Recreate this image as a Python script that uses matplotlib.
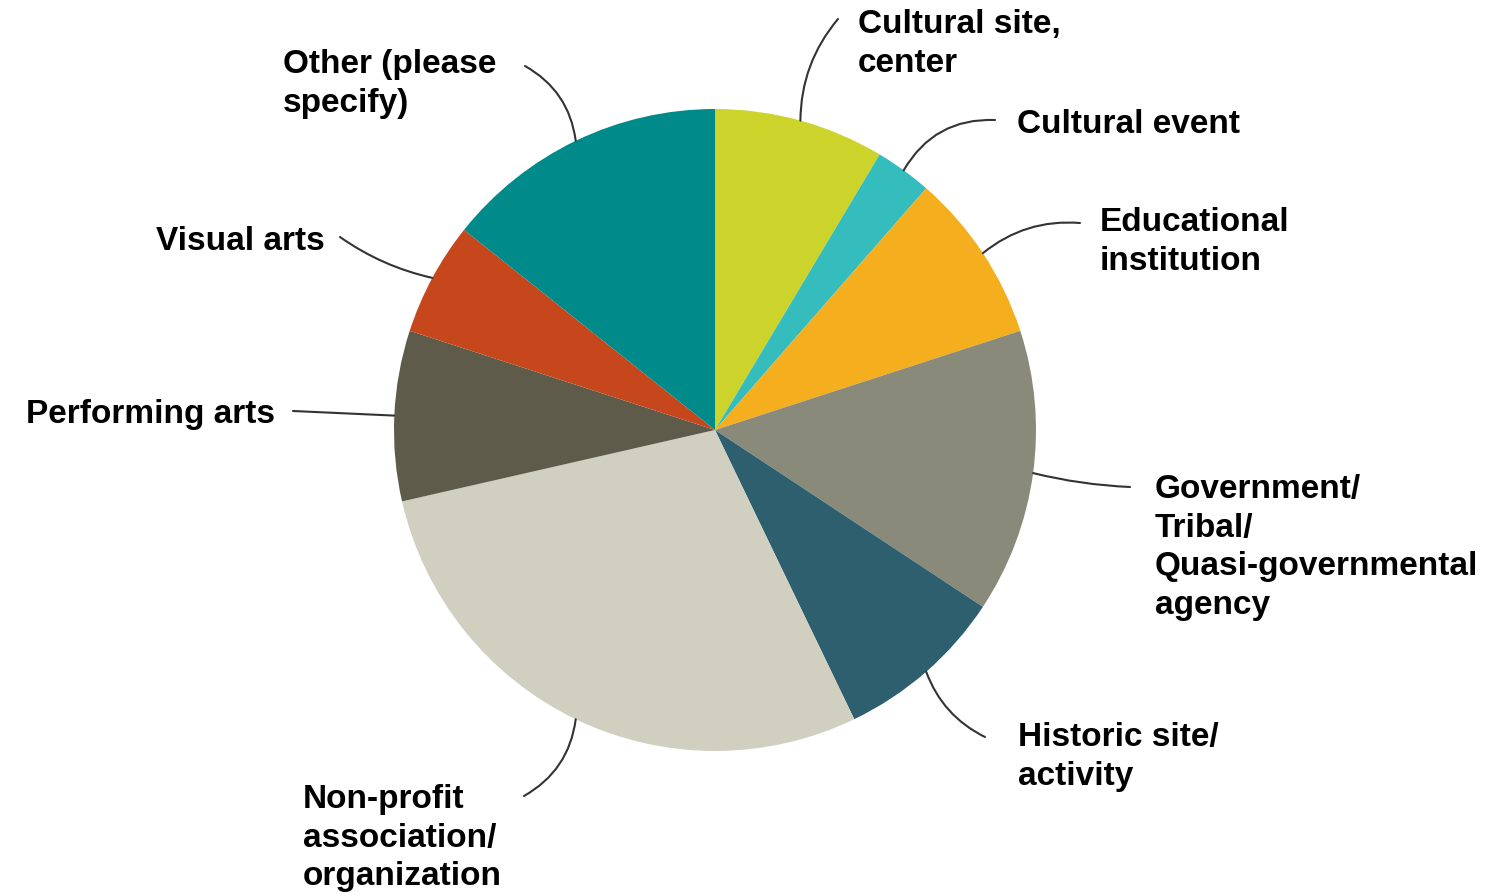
import numpy as np
import matplotlib.pyplot as plt

plt.rcParams['font.family'] = ['Liberation Sans', 'DejaVu Sans']

# Respondent counts by organization type (clockwise from 12 o'clock)
categories = ["Cultural site,\ncenter", "Cultural event", "Educational\ninstitution",
              "Government/\nTribal/\nQuasi-governmental\nagency", "Historic site/\nactivity",
              "Non-profit\nassociation/\norganization", "Performing arts", "Visual arts",
              "Other (please\nspecify)"]
counts = [9, 3, 9, 15, 9, 30, 9, 6, 15]
colors = ["#CCD32A", "#35BDBD", "#F5AE1E", "#8A8A7A", "#2E5F6E",
          "#D0CFC0", "#5E5B4B", "#C6471B", "#008A8A"]

W, H = 1504, 895
fig = plt.figure(figsize=(W / 100, H / 100), dpi=100)
ax = fig.add_axes([0, 0, 1, 1])

cx, cy, r = 715, H - 431, 321
wedges, _ = ax.pie(counts, colors=colors, startangle=90, counterclock=False,
                   center=(cx, cy), radius=r, frame=True,
                   wedgeprops=dict(linewidth=0))
ax.set_xlim(0, W)
ax.set_ylim(0, H)
ax.set_aspect('equal')
ax.axis('off')

# label placement: (x, top y in pixels from top, ha), leader end point, curvature
layout = [
    ((858, 9, 'left'), (838, 20), 0.18),
    ((1017, 109, 'left'), (995, 121), 0.3),
    ((1100, 207, 'left'), (1080, 224), 0.2),
    ((1155, 474, 'left'), (1130, 488), -0.05),
    ((1018, 722, 'left'), (985, 738), -0.2),
    ((303, 784, 'left'), (524, 797), 0.25),
    ((275, 399, 'right'), (293, 412), 0.0),
    ((325, 226, 'right'), (340, 238), 0.1),
    ((283, 49, 'left'), (525, 67), -0.25),
]

for w, label, ((tx, ty, ha), (ex, ey), rad) in zip(wedges, categories, layout):
    mid = np.deg2rad((w.theta1 + w.theta2) / 2)
    px, py = cx + r * np.cos(mid), cy + r * np.sin(mid)
    ax.annotate('', xy=(px, py), xytext=(ex, H - ey),
                arrowprops=dict(arrowstyle='-', color='#333333', lw=1.5,
                                shrinkA=0, shrinkB=0,
                                connectionstyle=f'arc3,rad={rad}'))
    ax.text(tx, H - ty, label, ha=ha, va='top', fontsize=24,
            fontweight='bold', color='black', linespacing=1.32)

fig.savefig('out.png', dpi=100, facecolor='white')
